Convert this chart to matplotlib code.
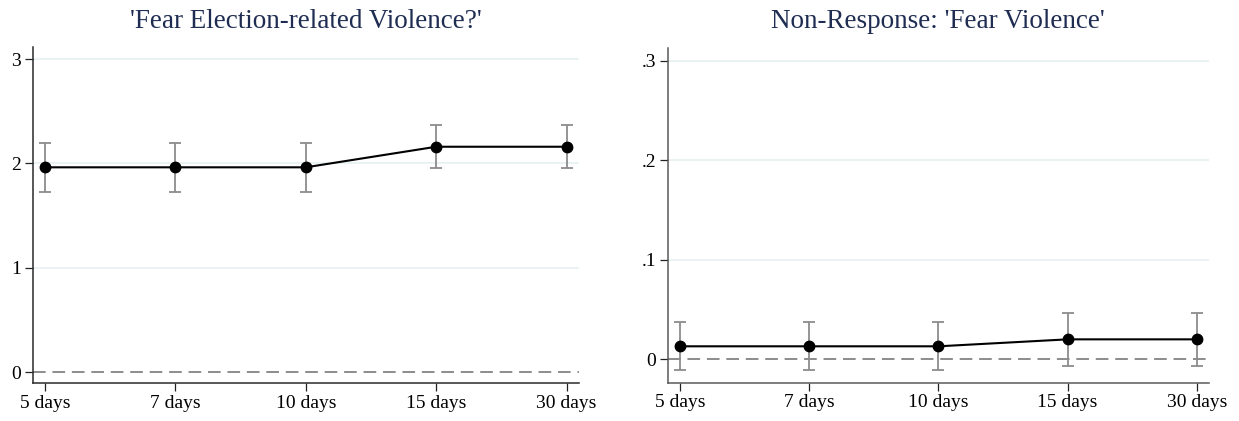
import matplotlib
matplotlib.use("Agg")
import matplotlib.pyplot as plt

categories = ["5 days", "7 days", "10 days", "15 days", "30 days"]

left_title = "'Fear Election-related Violence?'"
left_est = [1.963, 1.963, 1.963, 2.160, 2.160]
left_lo = [1.729, 1.729, 1.729, 1.953, 1.953]
left_hi = [2.199, 2.199, 2.199, 2.365, 2.365]
left_yticks = [0, 1, 2, 3]
left_yticklabels = ["0", "1", "2", "3"]

right_title = "Non-Response: 'Fear Violence'"
right_est = [0.0128, 0.0128, 0.0128, 0.0198, 0.0198]
right_lo = [-0.0114, -0.0114, -0.0114, -0.0070, -0.0070]
right_hi = [0.0375, 0.0375, 0.0375, 0.0466, 0.0466]
right_yticks = [0, 0.1, 0.2, 0.3]
right_yticklabels = ["0", ".1", ".2", ".3"]

plt.rcParams['font.family'] = ['Liberation Serif', 'DejaVu Serif']

W, H = 1239, 421
fig = plt.figure(figsize=(W / 100, H / 100), dpi=100)
ax1 = fig.add_axes([32.7 / W, 1 - 383.3 / H, (579 - 32.7) / W, (383.3 - 47) / H])
ax2 = fig.add_axes([667.7 / W, 1 - 382.5 / H, (1209 - 667.7) / W, (382.5 - 48) / H])

title_color = "#1f2d52"
grid_color = "#e8f0f2"

def draw(ax, title, est, lo, hi, yticks, ylabels, ylim, xlim, spine_color, title_pad):
    x = list(range(len(categories)))
    for yt in yticks:
        if yt != 0:
            ax.axhline(yt, color=grid_color, lw=1.2, zorder=0)
    ax.axhline(0, color="#8c8c8c", lw=1.4, ls=(0, (6.5, 3.5)), zorder=1)
    yerr = [[e - l for e, l in zip(est, lo)], [h - e for e, h in zip(est, hi)]]
    ax.errorbar(x, est, yerr=yerr, fmt="none", ecolor="#8c8c8c", elinewidth=1.3,
                capsize=4, capthick=1.3, zorder=2)
    ax.plot(x, est, color="black", lw=1.5, marker="o", markersize=7.5, zorder=3)
    ax.set_xticks(x)
    ax.set_xticklabels(categories, fontsize=14)
    ax.set_yticks(yticks)
    ax.set_yticklabels(ylabels, fontsize=14)
    ax.set_xlim(*xlim)
    ax.set_ylim(*ylim)
    for s in ["top", "right"]:
        ax.spines[s].set_visible(False)
    for s in ["left", "bottom"]:
        ax.spines[s].set_color(spine_color)
        ax.spines[s].set_linewidth(1.1)
    ax.tick_params(axis="both", length=5.5, width=0.9, color="#222222", pad=3)
    ax.set_title(title, color=title_color, fontsize=19.5, pad=title_pad)

draw(ax1, left_title, left_est, left_lo, left_hi, left_yticks, left_yticklabels,
     (-0.105, 3.115), (-0.094, 4.095), "#2a2a2a", 13.7)
draw(ax2, right_title, right_est, right_lo, right_hi, right_yticks, right_yticklabels,
     (-0.0236, 0.3128), (-0.095, 4.094), "#5a5a5a", 14.4)

fig.savefig("out.png", dpi=100)
